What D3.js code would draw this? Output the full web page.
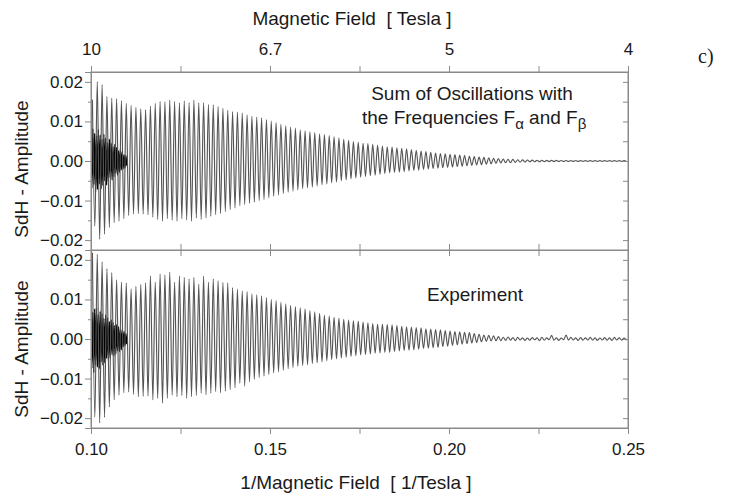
<!DOCTYPE html>
<html>
<head>
<meta charset="utf-8">
<script src="https://cdn.jsdelivr.net/npm/d3@7"></script>
<style>
  html, body { margin: 0; padding: 0; background: #fff; }
  svg { display: block; }
  text { font-family: "Liberation Sans", Arial, sans-serif; fill: #1a1a1a; }
</style>
</head>
<body>
<svg id="chart" width="746" height="497"></svg>
<script>
// Axis ranges and tick values (x axis: inverse field 1/B in 1/T)
const invFieldDomain = [0.10, 0.25];
const ampDomain = [-0.0225, 0.0225];
const invFieldTicks = [0.10, 0.15, 0.20, 0.25];
const invFieldMinorTicks = [0.125, 0.175, 0.225];
const ampTicks = [-0.02, -0.01, 0.00, 0.01, 0.02];
const ampMinorTicks = [-0.015, -0.005, 0.005, 0.015];

// Oscillation cycles: first and last maximum position in 1/B
const cycleRange = [0.1004, 0.2489];

// Calculated sum of the F_alpha and F_beta oscillations: maxima and minima of each cycle
const sumPeaks = [
  0.0155, 0.0201, 0.0193, 0.0163, 0.0159, 0.0158, 0.0153, 0.0146, 0.0141, 0.0136,
  0.0132, 0.0130, 0.0139, 0.0146, 0.0151, 0.0150, 0.0154, 0.0151, 0.0147, 0.0152,
  0.0148, 0.0154, 0.0147, 0.0148, 0.0143, 0.0142, 0.0138, 0.0133, 0.0128, 0.0125,
  0.0124, 0.0121, 0.0117, 0.0113, 0.0111, 0.0109, 0.0105, 0.0101, 0.0097, 0.0093,
  0.0089, 0.0086, 0.0083, 0.0079, 0.0076, 0.0074, 0.0072, 0.0069, 0.0067, 0.0064,
  0.0061, 0.0058, 0.0055, 0.0052, 0.0049, 0.0047, 0.0045, 0.0044, 0.0042, 0.0040,
  0.0038, 0.0036, 0.0035, 0.0033, 0.0032, 0.0031, 0.0029, 0.0027, 0.0025, 0.0024,
  0.0022, 0.0020, 0.0019, 0.0018, 0.0017, 0.0016, 0.0015, 0.0014, 0.0012, 0.0011,
  0.0010, 0.0009, 0.0008, 0.0007, 0.0006, 0.0005, 0.00045, 0.0004, 0.00032, 0.00028,
  0.00025, 0.00022, 0.0002, 0.00018, 0.00016, 0.00015, 0.00014, 0.00013, 0.00013, 0.00012,
  0.00012, 0.00011, 0.00011, 0.0001, 0.0001, 0.0001, 0.0001, 0.0001, 0.0001, 0.0001, 0.0001
];
const sumTroughs = [
  -0.0165, -0.0198, -0.0185, -0.0168, -0.0156, -0.0152, -0.0146, -0.0138, -0.0134, -0.0133,
  -0.0134, -0.0136, -0.0142, -0.0148, -0.0152, -0.0146, -0.0150, -0.0152, -0.0146, -0.0149,
  -0.0152, -0.0144, -0.0148, -0.0144, -0.0140, -0.0136, -0.0133, -0.0128, -0.0123, -0.0119,
  -0.0113, -0.0110, -0.0107, -0.0104, -0.0100, -0.0097, -0.0093, -0.0089, -0.0086, -0.0082,
  -0.0079, -0.0076, -0.0073, -0.0070, -0.0068, -0.0066, -0.0063, -0.0060, -0.0058, -0.0055,
  -0.0053, -0.0050, -0.0048, -0.0045, -0.0043, -0.0041, -0.0039, -0.0037, -0.0036, -0.0034,
  -0.0032, -0.0030, -0.0029, -0.0028, -0.0027, -0.0025, -0.0024, -0.0023, -0.0021, -0.0020,
  -0.0019, -0.0018, -0.0017, -0.0016, -0.0015, -0.0014, -0.0013, -0.0012, -0.0011, -0.0010,
  -0.0009, -0.0008, -0.0007, -0.0006, -0.0005, -0.00045, -0.0004, -0.00035, -0.0003, -0.00026,
  -0.00022, -0.0002, -0.00018, -0.00016, -0.00015, -0.00014, -0.00013, -0.00012, -0.00012, -0.00011,
  -0.00011, -0.0001, -0.0001, -0.0001, -0.0001, -0.0001, -0.0001, -0.0001, -0.0001, -0.0001, -0.0001
];

// Measured SdH signal: maxima and minima of each cycle
const expPeaks = [
  0.0218, 0.0214, 0.0195, 0.0178, 0.0168, 0.0150, 0.0144, 0.0142, 0.0127, 0.0133,
  0.0138, 0.0142, 0.0160, 0.0144, 0.0164, 0.0162, 0.0169, 0.0144, 0.0160, 0.0156,
  0.0152, 0.0156, 0.0139, 0.0159, 0.0144, 0.0152, 0.0148, 0.0143, 0.0142, 0.0130,
  0.0126, 0.0122, 0.0120, 0.0114, 0.0112, 0.0109, 0.0104, 0.0100, 0.0097, 0.0093,
  0.0089, 0.0085, 0.0082, 0.0079, 0.0076, 0.0072, 0.0069, 0.0065, 0.0060, 0.0058,
  0.0055, 0.0052, 0.0050, 0.0048, 0.0046, 0.0045, 0.0043, 0.0041, 0.0039, 0.0038,
  0.0038, 0.0037, 0.0036, 0.0034, 0.0032, 0.0031, 0.0030, 0.0029, 0.0028, 0.0026,
  0.0025, 0.0024, 0.0023, 0.0021, 0.0020, 0.0019, 0.0018, 0.0017, 0.0016, 0.0014,
  0.0012, 0.0010, 0.0009, 0.0008, 0.0006, 0.00045, 0.0005, 0.00035, 0.0004, 0.0003,
  0.00025, 0.00035, 0.0003, 0.00045, 0.0003, 0.0009, 0.0003, 0.00025, 0.0010, 0.0004,
  0.0003, 0.00035, 0.0003, 0.0004, 0.0003, 0.00025, 0.00035, 0.0003, 0.0004, 0.0003, 0.00025
];
const expTroughs = [
  -0.0198, -0.0212, -0.0198, -0.0172, -0.0154, -0.0142, -0.0136, -0.0134, -0.0140, -0.0146,
  -0.0145, -0.0144, -0.0154, -0.0150, -0.0162, -0.0150, -0.0142, -0.0146, -0.0143, -0.0150,
  -0.0146, -0.0143, -0.0137, -0.0141, -0.0137, -0.0133, -0.0136, -0.0132, -0.0128, -0.0123,
  -0.0112, -0.0119, -0.0108, -0.0102, -0.0097, -0.0094, -0.0090, -0.0086, -0.0083, -0.0079,
  -0.0075, -0.0072, -0.0069, -0.0067, -0.0065, -0.0062, -0.0060, -0.0058, -0.0055, -0.0052,
  -0.0050, -0.0048, -0.0046, -0.0044, -0.0042, -0.0040, -0.0039, -0.0038, -0.0036, -0.0035,
  -0.0034, -0.0034, -0.0032, -0.0030, -0.0029, -0.0028, -0.0027, -0.0026, -0.0024, -0.0023,
  -0.0022, -0.0021, -0.0019, -0.0018, -0.0016, -0.0015, -0.0013, -0.0012, -0.0010, -0.0009,
  -0.0007, -0.0006, -0.0005, -0.00045, -0.0004, -0.00035, -0.0003, -0.0004, -0.00025, -0.00035,
  -0.0003, -0.0002, -0.0004, -0.0003, -0.0002, -0.0003, -0.00035, -0.0002, -0.0003, -0.00025,
  -0.00035, -0.0003, -0.00025, -0.0003, -0.00035, -0.00025, -0.0003, -0.00035, -0.00025, -0.0003, -0.0003
];

// Fast F_beta oscillation at high field (successive extrema from 0.1000 to 0.1100)
const betaRange = [0.1000, 0.1100];
const sumBeta = [
  0.0075, -0.0068, 0.0082, -0.0060, 0.0070, -0.0078, 0.0064, -0.0072, 0.0080, -0.0058,
  0.0066, -0.0070, 0.0055, -0.0062, 0.0068, -0.0050, 0.0058, -0.0061, 0.0046, -0.0052,
  0.0055, -0.0042, 0.0045, -0.0048, 0.0036, -0.0040, 0.0042, -0.0032, 0.0034, -0.0036,
  0.0026, -0.0029, 0.0030, -0.0022, 0.0024, -0.0020, 0.0016, -0.0018, 0.0014, -0.0012
];
const expBeta = [
  0.0082, -0.0074, 0.0068, -0.0085, 0.0076, -0.0066, 0.0079, -0.0071, 0.0062, -0.0075,
  0.0070, -0.0058, 0.0064, -0.0066, 0.0052, -0.0060, 0.0061, -0.0049, 0.0054, -0.0055,
  0.0044, -0.0050, 0.0048, -0.0040, 0.0042, -0.0043, 0.0034, -0.0038, 0.0036, -0.0030,
  0.0031, -0.0032, 0.0025, -0.0027, 0.0024, -0.0020, 0.0019, -0.0017, 0.0014, -0.0013
];

const svg = d3.select("#chart");
const left = 91, right = 628;
const panels = [
  { top: 72, bottom: 250, peaks: sumPeaks, troughs: sumTroughs, beta: sumBeta, yTitle: 169 },
  { top: 250, bottom: 428, peaks: expPeaks, troughs: expTroughs, beta: expBeta, yTitle: 349 }
];

const x = d3.scaleLinear().domain(invFieldDomain).range([left, right]);
const cycle = d3.scaleLinear().domain([0, sumPeaks.length - 1]).range(cycleRange);
const betaStep = d3.scaleLinear().domain([0, sumBeta.length - 1]).range(betaRange);

svg.append("defs").append("clipPath").attr("id", "plotClip")
  .append("rect").attr("x", left).attr("y", 72).attr("width", right - left).attr("height", 428 - 72);

const axisColor = "#8a8a8a";
const fmtAmp = d3.format(".2f");
const fmtField = d3.format(".2~r");

panels.forEach((p, k) => {
  const y = d3.scaleLinear().domain(ampDomain).range([p.bottom, p.top]);

  // signal: alternating maxima and minima of each cycle
  const pts = [];
  p.peaks.forEach((v, i) => {
    pts.push([cycle(i), v]);
    pts.push([cycle(i + 0.5), p.troughs[i]]);
  });
  const line = d3.line().x(d => x(d[0])).y(d => y(d[1])).curve(d3.curveMonotoneX);
  const g = svg.append("g").attr("clip-path", "url(#plotClip)");
  const bpts = p.beta.map((v, i) => [betaStep(i), v]);
  g.append("path").datum(bpts).attr("d", line)
    .attr("fill", "none").attr("stroke", "#000").attr("stroke-width", 1.4);
  g.append("path").datum(pts).attr("d", line)
    .attr("fill", "none").attr("stroke", "#555").attr("stroke-width", 1.15);

  // left axis: outward ticks with labels
  const yAxisL = d3.axisLeft(y).tickValues(ampTicks).tickFormat(fmtAmp).tickSize(6).tickPadding(2);
  const gl = svg.append("g").attr("transform", `translate(${left},0)`).call(yAxisL);
  gl.selectAll("text").attr("font-size", 17);
  svg.append("g").attr("transform", `translate(${left},0)`)
    .call(d3.axisLeft(y).tickValues(ampMinorTicks).tickFormat("").tickSize(3));

  // right axis: inward ticks every 0.005
  svg.append("g").attr("transform", `translate(${right},0)`)
    .call(d3.axisRight(y).tickValues(ampTicks.concat(ampMinorTicks)).tickFormat("").tickSize(-5));

  // top and bottom frame ticks of each panel (outward)
  svg.append("g").attr("transform", `translate(0,${p.top})`)
    .call(d3.axisTop(x).tickValues(invFieldTicks.concat(invFieldMinorTicks)).tickFormat("").tickSize(6));
  if (k === 0) {
    svg.append("g").attr("transform", `translate(0,${p.bottom})`)
      .call(d3.axisBottom(x).tickValues(invFieldTicks.concat(invFieldMinorTicks)).tickFormat("").tickSize(6));
  }

  // y axis title
  svg.append("text")
    .attr("transform", `translate(28,${p.yTitle}) rotate(-90)`)
    .attr("text-anchor", "middle").attr("font-size", 19)
    .text("SdH - Amplitude");
});

// bottom axis: inverse field
const gb = svg.append("g").attr("transform", "translate(0,428)")
  .call(d3.axisBottom(x).tickValues(invFieldTicks.concat(invFieldMinorTicks))
    .tickFormat(d => invFieldTicks.includes(d) ? fmtAmp(d) : "").tickSize(6).tickPadding(9));
gb.selectAll("text").attr("font-size", 17);

// top axis labels: magnetic field B = 1/x
const gt = svg.append("g").attr("transform", "translate(0,72)")
  .call(d3.axisTop(x).tickValues(invFieldTicks).tickFormat(d => fmtField(1 / d)).tickSize(6).tickPadding(11));
gt.selectAll("text").attr("font-size", 17);

// axis line styling
svg.selectAll(".domain").attr("stroke", axisColor);
svg.selectAll(".tick line").attr("stroke", axisColor);
svg.selectAll(".tick text").attr("fill", "#1a1a1a").attr("font-family", "Liberation Sans, Arial, sans-serif");

// frame lines
svg.append("rect").attr("x", left).attr("y", 72).attr("width", right - left).attr("height", 356)
  .attr("fill", "none").attr("stroke", axisColor);
svg.append("line").attr("x1", left).attr("x2", right).attr("y1", 250).attr("y2", 250).attr("stroke", axisColor);

// axis titles
svg.append("text").attr("x", 352).attr("y", 25).attr("text-anchor", "middle").attr("font-size", 19)
  .attr("xml:space", "preserve").text("Magnetic Field  [ Tesla ]");
svg.append("text").attr("x", 356).attr("y", 489).attr("text-anchor", "middle").attr("font-size", 19)
  .attr("xml:space", "preserve").text("1/Magnetic Field  [ 1/Tesla ]");

// panel annotations
svg.append("text").attr("x", 472).attr("y", 100).attr("text-anchor", "middle").attr("font-size", 19)
  .text("Sum of Oscillations with");
const t2 = svg.append("text").attr("x", 362).attr("y", 124).attr("font-size", 19);
t2.append("tspan").text("the Frequencies F");
t2.append("tspan").attr("dy", 5).attr("font-size", 15).text("α");
t2.append("tspan").attr("dy", -5).text(" and F");
t2.append("tspan").attr("dy", 5).attr("font-size", 15).text("β");

svg.append("text").attr("x", 427).attr("y", 301).attr("font-size", 19).text("Experiment");

svg.append("text").attr("x", 698).attr("y", 63).attr("font-size", 20)
  .style("font-family", "'Liberation Serif', 'Times New Roman', serif")
  .text("c)");
</script>
</body>
</html>
